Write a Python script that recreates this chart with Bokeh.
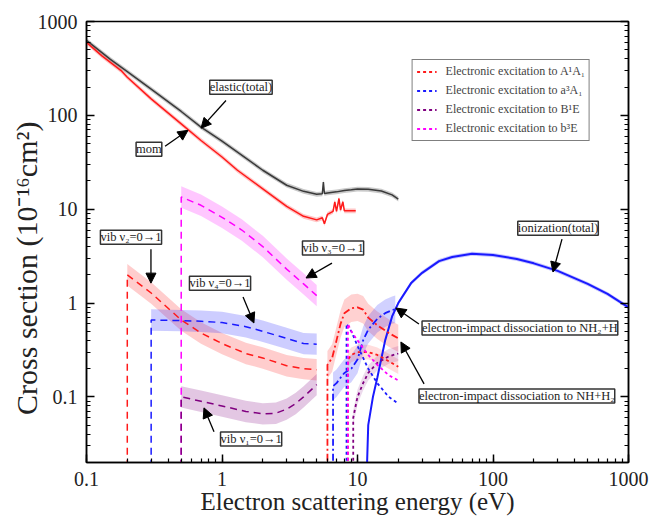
from bokeh.plotting import figure
from bokeh.models import (LogAxis, LogTicker, Label, Arrow, NormalHead, Legend,
                          LegendItem, Range1d)
from bokeh.embed import file_html
from bokeh.resources import INLINE

FONT = "Liberation Serif"

# ---------------- data ----------------
el_x = [0.1, 0.15, 0.2, 0.3, 0.5, 0.7, 1.0, 1.5, 2.0, 3.0, 4.0, 5.0, 5.5, 5.6, 5.7,
        6.0, 7.0, 8.0, 9.0, 10, 12, 15, 18, 20]
el_y = [630, 395, 292, 190, 110, 75, 53, 35, 26, 18, 15.5, 14.4, 14.6, 19.5, 14.7,
        14.9, 15.3, 15.8, 16.1, 16.4, 16.3, 15.6, 14.2, 12.8]

mom_x = [0.1, 0.13, 0.18, 0.2, 0.3, 0.5, 0.7, 1.0, 1.3, 2.0, 3.0, 4.0, 5.0, 5.5, 5.7,
         6.0, 6.6, 6.8, 7.0, 7.3, 7.5, 7.8, 8.0, 9.0, 9.7]
mom_y = [600, 430, 300, 255, 150, 81, 54, 36, 26, 16.5, 10.7, 8.4, 7.7, 8.1, 7.0,
         8.8, 9.5, 12.0, 9.5, 13.0, 9.8, 12.0, 9.6, 9.6, 9.6]

v2_x = [0.2, 0.2, 0.3, 0.5, 0.7, 1.0, 1.5, 2.0, 3.0, 4.0, 5.0]
v2_y = [0.01, 2.0, 1.28, 0.66, 0.48, 0.37, 0.29, 0.26, 0.215, 0.2, 0.195]

v4_x = [0.3, 0.3, 0.5, 0.7, 1.0, 1.5, 2.0, 3.0, 4.0, 5.0]
v4_y = [0.01, 0.66, 0.65, 0.64, 0.62, 0.56, 0.50, 0.42, 0.37, 0.365]

v3_x = [0.5, 0.5, 0.7, 1.0, 1.4, 2.0, 3.0, 4.0, 5.0]
v3_y = [0.01, 13.5, 11.0, 8.2, 6.0, 4.0, 2.3, 1.6, 1.2]

v1_x = [0.5, 0.5, 0.7, 1.0, 1.5, 2.0, 2.5, 3.0, 3.5, 4.0, 5.0]
v1_y = [0.01, 0.10, 0.09, 0.08, 0.07, 0.066, 0.067, 0.074, 0.085, 0.10, 0.135]

ion_x = [11.6, 12, 13, 14, 16, 18, 20, 25, 30, 40, 50, 70, 100, 150, 200, 300, 500, 700, 1000]
ion_y = [0.01, 0.05, 0.1, 0.16, 0.4, 0.72, 1.0, 1.65, 2.1, 2.8, 3.1, 3.35, 3.25, 2.95,
         2.65, 2.2, 1.6, 1.25, 0.9]

# dissociation channels
nh2_x = [6.6, 6.6, 7.0, 7.5, 8.0, 9.0, 10, 11, 12, 14, 16, 18, 19]
nh2_y = [0.01, 0.13, 0.14, 0.16, 0.18, 0.2, 0.25, 0.4, 0.52, 0.68, 0.78, 0.84, 0.86]
nh_x = [6.0, 6.0, 6.5, 7.0, 7.5, 8.0, 9.0, 10, 11, 12, 14, 17, 20]
nh_y = [0.01, 0.22, 0.26, 0.4, 0.6, 0.78, 0.88, 0.9, 0.85, 0.7, 0.58, 0.48, 0.42]

# electronic excitations
exA_x = [8.5, 8.5, 9, 10, 12, 14, 17, 20]
exA_y = [0.01, 0.25, 0.28, 0.3, 0.3, 0.28, 0.24, 0.21]
exa_x = [8.3, 8.3, 9, 10, 12, 14, 17, 20]
exa_y = [0.01, 0.6, 0.5, 0.35, 0.2, 0.14, 0.1, 0.085]
exB_x = [9.3, 9.3, 10, 11, 12, 14, 17, 20]
exB_y = [0.01, 0.06, 0.1, 0.14, 0.18, 0.23, 0.27, 0.29]
exb_x = [8.5, 8.5, 9, 10, 12, 14, 17, 20]
exb_y = [0.01, 0.6, 0.5, 0.4, 0.28, 0.22, 0.17, 0.15]

legend_labels = ["Electronic excitation to A\u00b9A\u2081",
                 "Electronic excitation to a\u00b3A\u2081",
                 "Electronic excitation to B\u00b9E",
                 "Electronic excitation to b\u00b3E"]

tick_labels = {0.1: "0.1", 1: "1", 10: "10", 100: "100", 1000: "1000"}
x_title = "Electron scattering energy (eV)"
y_title = "Cross section (10\u207b\u00b9\u2076cm\u00b2)"

RED, BLUE, PURPLE, MAG, BLACK = "#ff1a1a", "#1a1aff", "#800080", "#ff00ff", "#3a3a3a"

p = figure(width=651, height=522, x_axis_type="log", y_axis_type="log",
           x_range=Range1d(0.1, 1000), y_range=Range1d(0.02, 1000),
           output_backend="svg", toolbar_location=None,
           min_border_left=86, min_border_right=23, min_border_top=21,
           min_border_bottom=60)
p.xgrid.visible = False
p.ygrid.visible = False
p.outline_line_color = "black"
p.outline_line_width = 1.5
p.background_fill_color = "white"


def band(x, y, rel, color, alpha, skip=1):
    xs = x[skip:]
    lo = [v / (1 + rel) for v in y[skip:]]
    hi = [v * (1 + rel) for v in y[skip:]]
    p.varea(x=xs, y1=lo, y2=hi, fill_color=color, fill_alpha=alpha)


band(el_x, el_y, 0.06, "#888888", 0.45, skip=0)
band(mom_x, mom_y, 0.06, RED, 0.25, skip=0)
band(v2_x, v2_y, 0.3, RED, 0.22)
band(v4_x, v4_y, 0.3, BLUE, 0.22)
band(v3_x, v3_y, 0.3, MAG, 0.22)
band(v1_x, v1_y, 0.3, PURPLE, 0.22)
band(ion_x, ion_y, 0.05, BLUE, 0.25)
band(nh_x, nh_y, 0.4, RED, 0.2)
band(nh2_x, nh2_y, 0.4, BLUE, 0.2)
band(exA_x, exA_y, 0.2, RED, 0.15)
band(exB_x, exB_y, 0.2, PURPLE, 0.15)

p.line(el_x, el_y, line_color=BLACK, line_width=1.5)
p.line(mom_x, mom_y, line_color=RED, line_width=1.5)
p.line(v2_x, v2_y, line_color=RED, line_width=1.5, line_dash="7 5")
p.line(v4_x, v4_y, line_color=BLUE, line_width=1.5, line_dash="7 5")
p.line(v3_x, v3_y, line_color=MAG, line_width=1.5, line_dash="7 5")
p.line(v1_x, v1_y, line_color=PURPLE, line_width=1.5, line_dash="7 5")
p.line(ion_x, ion_y, line_color=BLUE, line_width=2)
p.line(nh_x, nh_y, line_color=RED, line_width=1.8, line_dash="7 3 2 3")
p.line(nh2_x, nh2_y, line_color=BLUE, line_width=1.8, line_dash="7 3 2 3")
rA = p.line(exA_x, exA_y, line_color=RED, line_width=1.8, line_dash="3 3")
ra = p.line(exa_x, exa_y, line_color=BLUE, line_width=1.8, line_dash="3 3")
rB = p.line(exB_x, exB_y, line_color=PURPLE, line_width=1.8, line_dash="3 3")
rb = p.line(exb_x, exb_y, line_color=MAG, line_width=1.8, line_dash="3 3")

legend = Legend(items=[LegendItem(label=l, renderers=[r]) for l, r in
                       zip(legend_labels, [rA, ra, rB, rb])],
                location="top_right", margin=38, padding=4, spacing=4,
                glyph_width=20, glyph_height=15, label_height=15, label_standoff=9,
                label_text_font=FONT, label_text_font_size="12px",
                border_line_color="black", border_line_width=1.5,
                background_fill_alpha=1.0)
p.add_layout(legend)

# axes styling
for ax in (p.xaxis[0], p.yaxis[0]):
    ax.ticker = LogTicker(num_minor_ticks=10)
    ax.major_tick_in = 8
    ax.major_tick_out = 0
    ax.minor_tick_in = 4
    ax.minor_tick_out = 0
    ax.axis_line_width = 1.5
    ax.major_tick_line_width = 1.5
    ax.minor_tick_line_width = 1.2
    ax.major_label_text_font = FONT
    ax.major_label_text_font_size = "20px"
    ax.major_label_text_color = "#222222"
    ax.major_label_overrides = tick_labels
    ax.major_label_standoff = 9
    ax.axis_label_text_font = FONT
    ax.axis_label_text_font_style = "normal"
    ax.axis_label_text_color = "#222222"

p.xaxis[0].axis_label = x_title
p.xaxis[0].axis_label_text_font_size = "25px"
p.xaxis[0].axis_label_standoff = -1
# trailing no-break spaces push the rotated title down, as in the reference
p.yaxis[0].axis_label = y_title + "\u00a0" * 7
p.yaxis[0].axis_label_text_font_size = "30px"
p.yaxis[0].axis_label_standoff = -8

rax = LogAxis(ticker=LogTicker(num_minor_ticks=10), major_tick_in=8, major_tick_out=0,
              minor_tick_in=4, minor_tick_out=0, axis_line_width=1.5,
              major_tick_line_width=1.5, major_label_text_font_size="2px",
              major_label_text_alpha=0.0, major_label_standoff=0)
p.add_layout(rax, "right")

# annotations: (text, label x, label y, arrow start, arrow end)
notes = [
    ("elastic(total)", 1.38, 199, (1.07, 144), (0.70, 73)),
    ("mom", 0.289, 43.5, (0.38, 46.8), (0.561, 69.3)),
    ("vib \u03bd\u2082=0\u21921", 0.213, 5.04, (0.299, 3.75), (0.299, 1.63)),
    ("vib \u03bd\u2084=0\u21921", 0.967, 1.63, (1.43, 1.16), (1.72, 0.613)),
    ("vib \u03bd\u2083=0\u21921", 6.6, 3.85, (6.48, 2.66), (4.17, 1.85)),
    ("vib \u03bd\u2081=0\u21921", 1.64, 0.0357, (0.873, 0.0424), (0.736, 0.0764)),
    ("ionization(total)", 302, 6.28, (323, 4.8), (277, 2.14)),
    ("electron-impact dissociation to NH\u2082+H", 158, 0.542, (28.4, 0.598), (19.2, 0.885)),
    ("electron-impact dissociation to NH+H\u2082", 150, 0.1025, (31, 0.1375), (20.9, 0.385)),
]
for txt, lx, ly, a0, a1 in notes:
    p.add_layout(Arrow(end=NormalHead(size=10, fill_color="black", line_color="black"),
                       x_start=a0[0], y_start=a0[1], x_end=a1[0], y_end=a1[1],
                       line_width=1.3, line_color="black"))
    p.add_layout(Label(x=lx, y=ly, text=txt, text_align="center", text_baseline="middle",
                       text_font=FONT, text_font_size="12.5px", text_color="#222222",
                       border_line_color="#333333", border_line_width=1.5,
                       background_fill_color="white", background_fill_alpha=1.0))

open("out.html", "w").write(file_html(p, INLINE))
